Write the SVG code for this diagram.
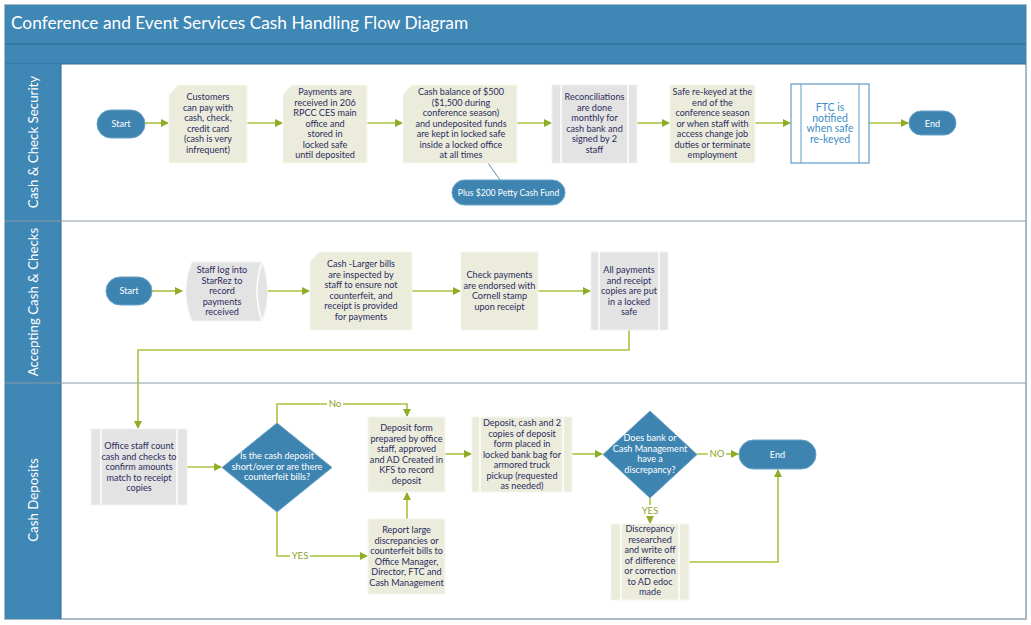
<svg xmlns="http://www.w3.org/2000/svg" width="1031" height="625" viewBox="0 0 1031 625">
<defs>
<style>
.t{font-family:Lato,"Liberation Sans",Arial,sans-serif;font-size:9.1px;fill:#2d2d5e;text-anchor:middle}
.tw{font-family:Lato,"Liberation Sans",Arial,sans-serif;font-size:9.1px;fill:#ffffff;text-anchor:middle}
.tb{font-family:Lato,"Liberation Sans",Arial,sans-serif;font-size:10.5px;fill:#3d8cc4;text-anchor:middle}
.lane{font-family:Lato,"Liberation Sans",Arial,sans-serif;font-size:13.3px;fill:#ffffff;text-anchor:middle}
.lbl{font-family:Lato,"Liberation Sans",Arial,sans-serif;font-size:9.6px;fill:#8aa52a;text-anchor:middle}
.beige{fill:#ebecdc;stroke:#f6f6ee;stroke-width:1}
.gray{fill:#e3e3e3;stroke:#f2f2f2;stroke-width:1}
.pill{fill:#3e84b1;stroke:#6aa3c8;stroke-width:1}
.inner{stroke:#ffffff;stroke-width:1.5;fill:none}
.c{fill:none;stroke:#a8c33e;stroke-width:1.6}
</style>
<marker id="ah" markerWidth="8" markerHeight="8" refX="7" refY="4" orient="auto" markerUnits="userSpaceOnUse">
<path d="M0,0 L8,4 L0,8 Z" fill="#8fac27"/>
</marker>
</defs>
<rect x="0" y="0" width="1031" height="625" fill="#ffffff"/>
<g id="frame">
<rect x="5" y="5" width="1021" height="614" fill="#ffffff" stroke="#8ea4b5" stroke-width="1.5"/>
<rect x="5" y="5" width="1021" height="39" fill="#3f87b5"/>
<rect x="5" y="44" width="1021" height="20" fill="#3f87b5"/>
<line x1="5" y1="44" x2="1026" y2="44" stroke="#2c6a93" stroke-width="1"/>
<line x1="5" y1="64" x2="1026" y2="64" stroke="#2c6a93" stroke-width="1"/>
<rect x="5" y="64" width="56" height="555" fill="#3f87b5"/>
<line x1="61" y1="64" x2="61" y2="619" stroke="#2c6a93" stroke-width="1"/>
<line x1="5" y1="221" x2="1026" y2="221" stroke="#8a9aa8" stroke-width="1"/>
<line x1="5" y1="383" x2="1026" y2="383" stroke="#8a9aa8" stroke-width="1"/>
<text x="11" y="29" font-family="Lato, Liberation Sans, Arial, sans-serif" font-size="17.3" fill="#ffffff">Conference and Event Services Cash Handling Flow Diagram</text>
<text class="lane" transform="translate(38,142) rotate(-90)">Cash &amp; Check Security</text>
<text class="lane" transform="translate(38,302) rotate(-90)">Accepting Cash &amp; Checks</text>
<text class="lane" transform="translate(38,500) rotate(-90)">Cash Deposits</text>
</g>
<g id="connectors">
<line class="c" x1="145" y1="123" x2="168" y2="123" marker-end="url(#ah)"/>
<line class="c" x1="247" y1="123" x2="282" y2="123" marker-end="url(#ah)"/>
<line class="c" x1="367" y1="123" x2="402" y2="123" marker-end="url(#ah)"/>
<line class="c" x1="517" y1="123" x2="551" y2="123" marker-end="url(#ah)"/>
<line class="c" x1="637" y1="123" x2="669" y2="123" marker-end="url(#ah)"/>
<line class="c" x1="755" y1="123" x2="790" y2="123" marker-end="url(#ah)"/>
<line class="c" x1="869" y1="123" x2="908" y2="123" marker-end="url(#ah)"/>
<line x1="488" y1="163" x2="500" y2="180" stroke="#5b8fb5" stroke-width="1"/>
<line class="c" x1="152" y1="291" x2="182" y2="291" marker-end="url(#ah)"/>
<line class="c" x1="268" y1="291" x2="309" y2="291" marker-end="url(#ah)"/>
<line class="c" x1="412" y1="291" x2="460" y2="291" marker-end="url(#ah)"/>
<line class="c" x1="538" y1="291" x2="590" y2="291" marker-end="url(#ah)"/>
<path class="c" d="M629,330 V350 H138 V428" marker-end="url(#ah)"/>
<line class="c" x1="187" y1="467" x2="221" y2="467" marker-end="url(#ah)"/>
<path class="c" d="M277,423 V404 H407 V416" marker-end="url(#ah)"/>
<path class="c" d="M277,512 V556 H367" marker-end="url(#ah)"/>
<line class="c" x1="407" y1="519" x2="407" y2="493" marker-end="url(#ah)"/>
<line class="c" x1="445" y1="454" x2="471" y2="454" marker-end="url(#ah)"/>
<line class="c" x1="572" y1="454" x2="602" y2="454" marker-end="url(#ah)"/>
<line class="c" x1="697" y1="454" x2="738" y2="454" marker-end="url(#ah)"/>
<line class="c" x1="650" y1="498" x2="650" y2="523" marker-end="url(#ah)"/>
<path class="c" d="M689,562 H778 V470" marker-end="url(#ah)"/>
<rect x="327" y="398" width="16" height="11" fill="#ffffff"/>
<text class="lbl" x="335" y="407">No</text>
<rect x="290" y="550" width="20" height="11" fill="#ffffff"/>
<text class="lbl" x="300" y="559">YES</text>
<rect x="708" y="448" width="18" height="11" fill="#ffffff"/>
<text class="lbl" x="717" y="457">NO</text>
<rect x="640" y="505" width="20" height="11" fill="#ffffff"/>
<text class="lbl" x="650" y="514">YES</text>
</g>
<g id="start1">
<rect class="pill" x="97" y="110" width="48" height="28" rx="14"/>
<text class="tw" x="121" y="127">Start</text>
</g>
<g id="customers">
<path class="beige" d="M178,85 H247 V163 H169 V95 Z"/>
<text class="t" x="208"><tspan x="208" y="100">Customers</tspan><tspan x="208" y="110.5">can pay with</tspan><tspan x="208" y="121">cash, check,</tspan><tspan x="208" y="131.5">credit card</tspan><tspan x="208" y="142">(cash is very</tspan><tspan x="208" y="152.5">infrequent)</tspan></text>
</g>
<g id="payments">
<path class="beige" d="M292,85 H367 V163 H283 V95 Z"/>
<text class="t"><tspan x="325" y="95">Payments are</tspan><tspan x="325" y="105.5">received in 206</tspan><tspan x="325" y="116">RPCC CES main</tspan><tspan x="325" y="126.5">office and</tspan><tspan x="325" y="137">stored in</tspan><tspan x="325" y="147.5">locked safe</tspan><tspan x="325" y="158">until deposited</tspan></text>
</g>
<g id="cashbalance">
<path class="beige" d="M412,85 H517 V163 H403 V95 Z"/>
<text class="t"><tspan x="461" y="95">Cash balance of $500</tspan><tspan x="461" y="105.5">($1,500 during</tspan><tspan x="461" y="116">conference season)</tspan><tspan x="461" y="126.5">and undeposited funds</tspan><tspan x="461" y="137">are kept in locked safe</tspan><tspan x="461" y="147.5">inside a locked office</tspan><tspan x="461" y="158">at all times</tspan></text>
</g>
<g id="pettycash">
<rect class="pill" x="452" y="180" width="113" height="25" rx="12.5"/>
<text class="tw" x="508.5" y="196" style="font-size:8.6px">Plus $200 Petty Cash Fund</text>
</g>
<g id="reconciliations">
<rect class="gray" x="552" y="85" width="85" height="78"/>
<line class="inner" x1="561" y1="85" x2="561" y2="163"/>
<line class="inner" x1="628" y1="85" x2="628" y2="163"/>
<text class="t"><tspan x="594.5" y="100">Reconciliations</tspan><tspan x="594.5" y="110.5">are done</tspan><tspan x="594.5" y="121">monthly for</tspan><tspan x="594.5" y="131.5">cash bank and</tspan><tspan x="594.5" y="142">signed by 2</tspan><tspan x="594.5" y="152.5">staff</tspan></text>
</g>
<g id="rekeyed">
<rect class="beige" x="670" y="85" width="85" height="78"/>
<text class="t"><tspan x="712.5" y="95">Safe re-keyed at the</tspan><tspan x="712.5" y="105.5">end of the</tspan><tspan x="712.5" y="116">conference season</tspan><tspan x="712.5" y="126.5">or when staff with</tspan><tspan x="712.5" y="137">access change job</tspan><tspan x="712.5" y="147.5">duties or terminate</tspan><tspan x="712.5" y="158">employment</tspan></text>
</g>
<g id="ftc">
<rect x="791" y="84" width="78" height="79" fill="#ffffff" stroke="#5d9ccc" stroke-width="1.2"/>
<line x1="801" y1="84" x2="801" y2="163" stroke="#5d9ccc" stroke-width="1"/>
<line x1="859" y1="84" x2="859" y2="163" stroke="#5d9ccc" stroke-width="1"/>
<text class="tb"><tspan x="830" y="111">FTC is</tspan><tspan x="830" y="121.5">notified</tspan><tspan x="830" y="132">when safe</tspan><tspan x="830" y="142.5">re-keyed</tspan></text>
</g>
<g id="end1">
<rect class="pill" x="909" y="111" width="47" height="24" rx="12"/>
<text class="tw" x="932.5" y="126.5">End</text>
</g>
<g id="start2">
<rect class="pill" x="106" y="277" width="46" height="28" rx="14"/>
<text class="tw" x="129" y="294">Start</text>
</g>
<g id="starrez">
<path d="M192,262 H262 Q273,291.5 262,321 H192 Q180,291.5 192,262 Z" fill="#e3e3e3" stroke="#f2f2f2" stroke-width="1"/>
<path class="inner" d="M262,262 Q252,291.5 262,321"/>
<text class="t"><tspan x="222" y="273">Staff log into</tspan><tspan x="222" y="283.5">StarRez to</tspan><tspan x="222" y="294">record</tspan><tspan x="222" y="304.5">payments</tspan><tspan x="222" y="315">received</tspan></text>
</g>
<g id="inspect">
<path class="beige" d="M319,252 H412 V330 H310 V262 Z"/>
<text class="t"><tspan x="361" y="267">Cash -Larger bills</tspan><tspan x="361" y="277.5">are inspected by</tspan><tspan x="361" y="288">staff to ensure not</tspan><tspan x="361" y="298.5">counterfeit,  and</tspan><tspan x="361" y="309">receipt is provided</tspan><tspan x="361" y="319.5">for payments</tspan></text>
</g>
<g id="checkpay">
<rect class="beige" x="461" y="252" width="77" height="78"/>
<text class="t"><tspan x="499.5" y="278">Check payments</tspan><tspan x="499.5" y="288.5">are endorsed  with</tspan><tspan x="499.5" y="299">Cornell stamp</tspan><tspan x="499.5" y="309.5">upon receipt</tspan></text>
</g>
<g id="allpayments">
<rect class="gray" x="591" y="252" width="77" height="78"/>
<line class="inner" x1="599" y1="252" x2="599" y2="330"/>
<line class="inner" x1="659" y1="252" x2="659" y2="330"/>
<text class="t"><tspan x="629" y="273">All payments</tspan><tspan x="629" y="283.5">and receipt</tspan><tspan x="629" y="294">copies are put</tspan><tspan x="629" y="304.5">in a locked</tspan><tspan x="629" y="315">safe</tspan></text>
</g>
<g id="officecount">
<rect class="gray" x="91" y="429" width="96" height="76"/>
<line class="inner" x1="101" y1="429" x2="101" y2="505"/>
<line class="inner" x1="177" y1="429" x2="177" y2="505"/>
<text class="t"><tspan x="139" y="449">Office staff count</tspan><tspan x="139" y="459.5">cash and checks to</tspan><tspan x="139" y="470">confirm amounts</tspan><tspan x="139" y="480.5">match to receipt</tspan><tspan x="139" y="491">copies</tspan></text>
</g>
<g id="decision1">
<path d="M277,423 L332,467.5 L277,512 L222,467.5 Z" fill="#3e84b1" stroke="#6aa3c8" stroke-width="1"/>
<text class="tw"><tspan x="277" y="459">Is the cash deposit</tspan><tspan x="277" y="469.5">short/over or are there</tspan><tspan x="277" y="480">counterfeit bills?</tspan></text>
</g>
<g id="depositform">
<rect class="beige" x="368" y="417" width="77" height="75"/>
<text class="t"><tspan x="406.5" y="431">Deposit form</tspan><tspan x="406.5" y="441.5">prepared by office</tspan><tspan x="406.5" y="452">staff, approved</tspan><tspan x="406.5" y="462.5">and AD Created in</tspan><tspan x="406.5" y="473">KFS to record</tspan><tspan x="406.5" y="483.5">deposit</tspan></text>
</g>
<g id="report">
<rect class="beige" x="368" y="519" width="77" height="75"/>
<text class="t"><tspan x="406.5" y="533">Report large</tspan><tspan x="406.5" y="543.5">discrepancies or</tspan><tspan x="406.5" y="554">counterfeit bills to</tspan><tspan x="406.5" y="564.5">Office Manager,</tspan><tspan x="406.5" y="575">Director, FTC and</tspan><tspan x="406.5" y="585.5">Cash Management</tspan></text>
</g>
<g id="bankbag">
<rect class="beige" x="472" y="417" width="100" height="75"/>
<line class="inner" x1="480" y1="417" x2="480" y2="492"/>
<line class="inner" x1="563" y1="417" x2="563" y2="492"/>
<text class="t"><tspan x="522" y="426">Deposit, cash and 2</tspan><tspan x="522" y="436.5">copies of deposit</tspan><tspan x="522" y="447">form placed in</tspan><tspan x="522" y="457.5">locked bank bag for</tspan><tspan x="522" y="468">armored truck</tspan><tspan x="522" y="478.5">pickup (requested</tspan><tspan x="522" y="489">as needed)</tspan></text>
</g>
<g id="decision2">
<path d="M650,411 L697,454.5 L650,498 L603,454.5 Z" fill="#3e84b1" stroke="#6aa3c8" stroke-width="1"/>
<text class="tw"><tspan x="650" y="441">Does bank or</tspan><tspan x="650" y="451.5">Cash Management</tspan><tspan x="650" y="462">have a</tspan><tspan x="650" y="472.5">discrepancy?</tspan></text>
</g>
<g id="end2">
<rect class="pill" x="739" y="440" width="77" height="29" rx="14.5"/>
<text class="tw" x="777.5" y="458">End</text>
</g>
<g id="discrepancy">
<rect class="beige" x="611" y="524" width="78" height="76"/>
<line class="inner" x1="621" y1="524" x2="621" y2="600"/>
<line class="inner" x1="679" y1="524" x2="679" y2="600"/>
<text class="t"><tspan x="650" y="532">Discrepancy</tspan><tspan x="650" y="542.5">researched</tspan><tspan x="650" y="553">and write off</tspan><tspan x="650" y="563.5">of difference</tspan><tspan x="650" y="574">or correction</tspan><tspan x="650" y="584.5">to AD edoc</tspan><tspan x="650" y="595">made</tspan></text>
</g>
</svg>
